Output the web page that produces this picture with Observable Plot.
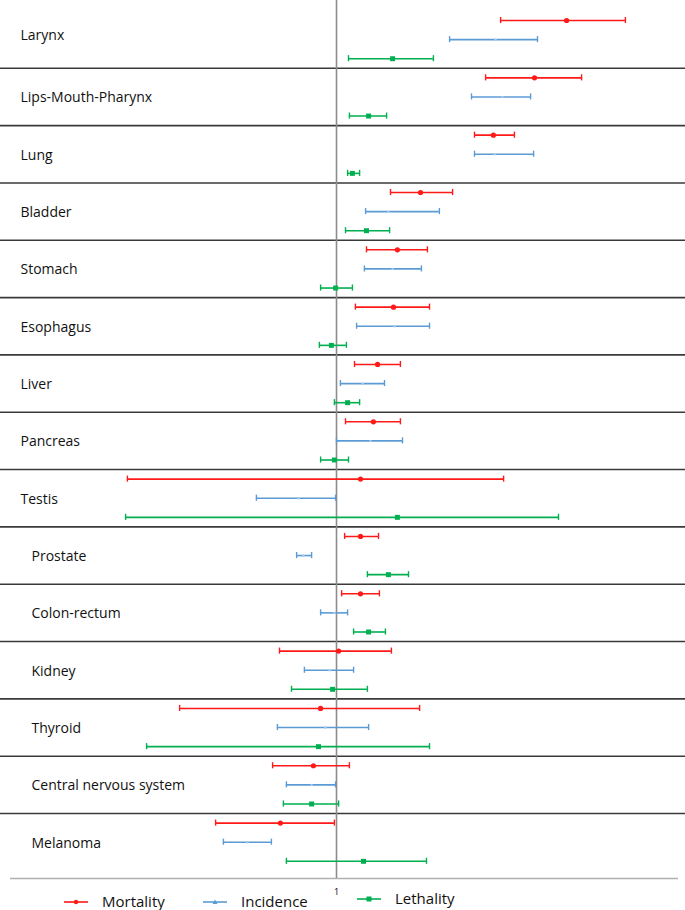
<!DOCTYPE html>
<html>
<head>
<meta charset="utf-8">
<script src="https://cdn.jsdelivr.net/npm/d3@7"></script>
<script src="https://cdn.jsdelivr.net/npm/@observablehq/plot@0.6"></script>
<style>
  html, body { margin: 0; padding: 0; background: #fff; }
  #wrap { position: relative; width: 685px; height: 910px; overflow: hidden; }
  #chart { position: absolute; left: 0; top: 0; width: 685px; }
  .legend { position: absolute; left: 0; top: 0; width: 685px; height: 910px; font-family: "Open Sans", sans-serif; font-size: 15px; line-height: 15px; color: #111; pointer-events: none; }
  .legend .item { position: absolute; display: flex; align-items: center; height: 15px; }
  .legend svg { margin-right: 14px; }
</style>
</head>
<body>
<div id="wrap">
<div id="chart"></div>
<div class="legend" id="legend"></div>
</div>
<script>
// ---- data (ratio estimates with lower / upper bounds) ----
const categories = ["Larynx", "Lips-Mouth-Pharynx", "Lung", "Bladder", "Stomach", "Esophagus", "Liver", "Pancreas", "Testis", "Prostate", "Colon-rectum", "Kidney", "Thyroid", "Central nervous system", "Melanoma"];
const measures = ["Mortality", "Incidence", "Lethality"];

const mortalityLow  = [1.547, 1.497, 1.460, 1.180, 1.100, 1.063, 1.060, 1.030, 0.303, 1.027, 1.017, 0.810, 0.477, 0.787, 0.597];
const mortalityEst  = [1.767, 1.660, 1.523, 1.280, 1.203, 1.190, 1.137, 1.123, 1.080, 1.080, 1.080, 1.007, 0.947, 0.923, 0.813];
const mortalityHigh = [1.963, 1.817, 1.593, 1.387, 1.303, 1.310, 1.213, 1.213, 1.557, 1.140, 1.143, 1.183, 1.277, 1.043, 0.993];

const incidenceLow  = [1.377, 1.450, 1.460, 1.097, 1.093, 1.067, 1.013, 1.000, 0.733, 0.867, 0.947, 0.893, 0.803, 0.833, 0.623];
const incidenceEst  = [1.530, 1.553, 1.527, 1.173, 1.187, 1.193, 1.087, 1.113, 0.873, 0.890, 0.993, 0.977, 0.963, 0.917, 0.703];
const incidenceHigh = [1.670, 1.647, 1.657, 1.343, 1.283, 1.310, 1.160, 1.220, 0.997, 0.917, 1.037, 1.057, 1.107, 0.997, 0.783];

const lethalityLow  = [1.040, 1.043, 1.037, 1.030, 0.947, 0.943, 0.993, 0.947, 0.297, 1.103, 1.057, 0.850, 0.367, 0.823, 0.833];
const lethalityEst  = [1.187, 1.107, 1.053, 1.100, 0.997, 0.983, 1.037, 0.993, 1.203, 1.173, 1.107, 0.987, 0.940, 0.917, 1.090];
const lethalityHigh = [1.323, 1.167, 1.077, 1.177, 1.053, 1.033, 1.077, 1.040, 1.740, 1.240, 1.163, 1.103, 1.310, 1.007, 1.300];

const referenceValue = 1;
const tickLabels = ["1"];

// ---- build table ----
const series = {
  Mortality: [mortalityLow, mortalityEst, mortalityHigh],
  Incidence: [incidenceLow, incidenceEst, incidenceHigh],
  Lethality: [lethalityLow, lethalityEst, lethalityHigh]
};
const rows = [];
categories.forEach((cat, g) => {
  measures.forEach((m, k) => {
    const [lo, est, hi] = series[m];
    rows.push({category: cat, measure: m, row: g * 3 + k, lo: lo[g], est: est[g], hi: hi[g]});
  });
});
const groups = categories.map((c, g) => ({category: c, row: g * 3 + 1, idx: g}));
const separators = categories.slice(1).map((c, g) => (g + 1) * 3 - 0.5);

const colors = {Mortality: "#ff1a1a", Incidence: "#5b9bd5", Lethality: "#00b050"};
const xDomain = [-0.0867, 2.14];
const yDomain = [-1.047, 44.9];
const capH = 0.16;
const by = m => rows.filter(d => d.measure === m);

const bars = measures.flatMap(m => [
  Plot.ruleY(by(m), {y: "row", x1: "lo", x2: "hi", stroke: colors[m], strokeWidth: 1.6}),
  Plot.ruleX(by(m), {x: "lo", y1: d => d.row - capH, y2: d => d.row + capH, stroke: colors[m], strokeWidth: 1.4}),
  Plot.ruleX(by(m), {x: "hi", y1: d => d.row - capH, y2: d => d.row + capH, stroke: colors[m], strokeWidth: 1.4})
]);

const chart = Plot.plot({
  width: 685,
  height: 900,
  margin: 0,
  style: {fontFamily: "'Open Sans', sans-serif", background: "transparent"},
  x: {domain: xDomain, range: [10, 678], axis: null},
  y: {domain: yDomain, range: [0, 878], axis: null},
  marks: [
    Plot.ruleY(separators, {y: d => d, stroke: "#3a3a3a", strokeWidth: 1.6}),
    Plot.ruleY([yDomain[1]], {y: d => d, x1: xDomain[0], x2: xDomain[1], stroke: "#b0b0b0", strokeWidth: 1.5}),
    Plot.ruleX([referenceValue], {x: d => d, y1: yDomain[0], y2: yDomain[1], stroke: "#8c8c8c", strokeWidth: 1.6}),
    Plot.text(tickLabels, {x: () => referenceValue, y: () => yDomain[1], dy: 14, text: d => d, fontSize: 9, fill: "#000"}),
    ...bars,
    Plot.dot(by("Mortality"), {x: "est", y: "row", r: 2.6, fill: colors.Mortality, stroke: "none"}),
    Plot.dot(by("Incidence"), {x: "est", y: "row", r: 1.2, fill: "#a9c9ea", stroke: "none"}),
    Plot.dot(by("Lethality"), {x: "est", y: "row", r: 2.8, symbol: "square", fill: colors.Lethality, stroke: "none"}),
    Plot.text(groups.filter(d => d.idx === 0), {x: () => xDomain[0], y: "row", text: "category", textAnchor: "start", dx: 10, dy: -4, fontSize: 14, fill: "#111"}),
    Plot.text(groups.filter(d => d.idx > 0 && d.idx < 9), {x: () => xDomain[0], y: "row", text: "category", textAnchor: "start", dx: 10, dy: 1, fontSize: 14, fill: "#111"}),
    Plot.text(groups.filter(d => d.idx >= 9), {x: () => xDomain[0], y: "row", text: "category", textAnchor: "start", dx: 21, dy: 1, fontSize: 14, fill: "#111"})
  ]
});
document.getElementById("chart").appendChild(chart);

// ---- legend ----
const legend = document.getElementById("legend");
const legendPos = {Mortality: [64, 894], Incidence: [203, 894], Lethality: [357, 891]};
measures.forEach(m => {
  const item = document.createElement("div");
  item.className = "item";
  item.style.left = legendPos[m][0] + "px";
  item.style.top = legendPos[m][1] + "px";
  const marker = m === "Mortality"
    ? `<circle cx="12" cy="7" r="2.2" fill="${colors[m]}"/>`
    : m === "Incidence"
      ? `<path d="M12 4.5 L14.5 9 L9.5 9 Z" fill="${colors[m]}"/>`
      : `<rect x="9.5" y="4.5" width="5" height="5" fill="${colors[m]}"/>`;
  item.innerHTML = `<svg width="24" height="14"><line x1="0" y1="7" x2="24" y2="7" stroke="${colors[m]}" stroke-width="1.6"/>${marker}</svg><span>${m}</span>`;
  legend.appendChild(item);
});
</script>
</body>
</html>
